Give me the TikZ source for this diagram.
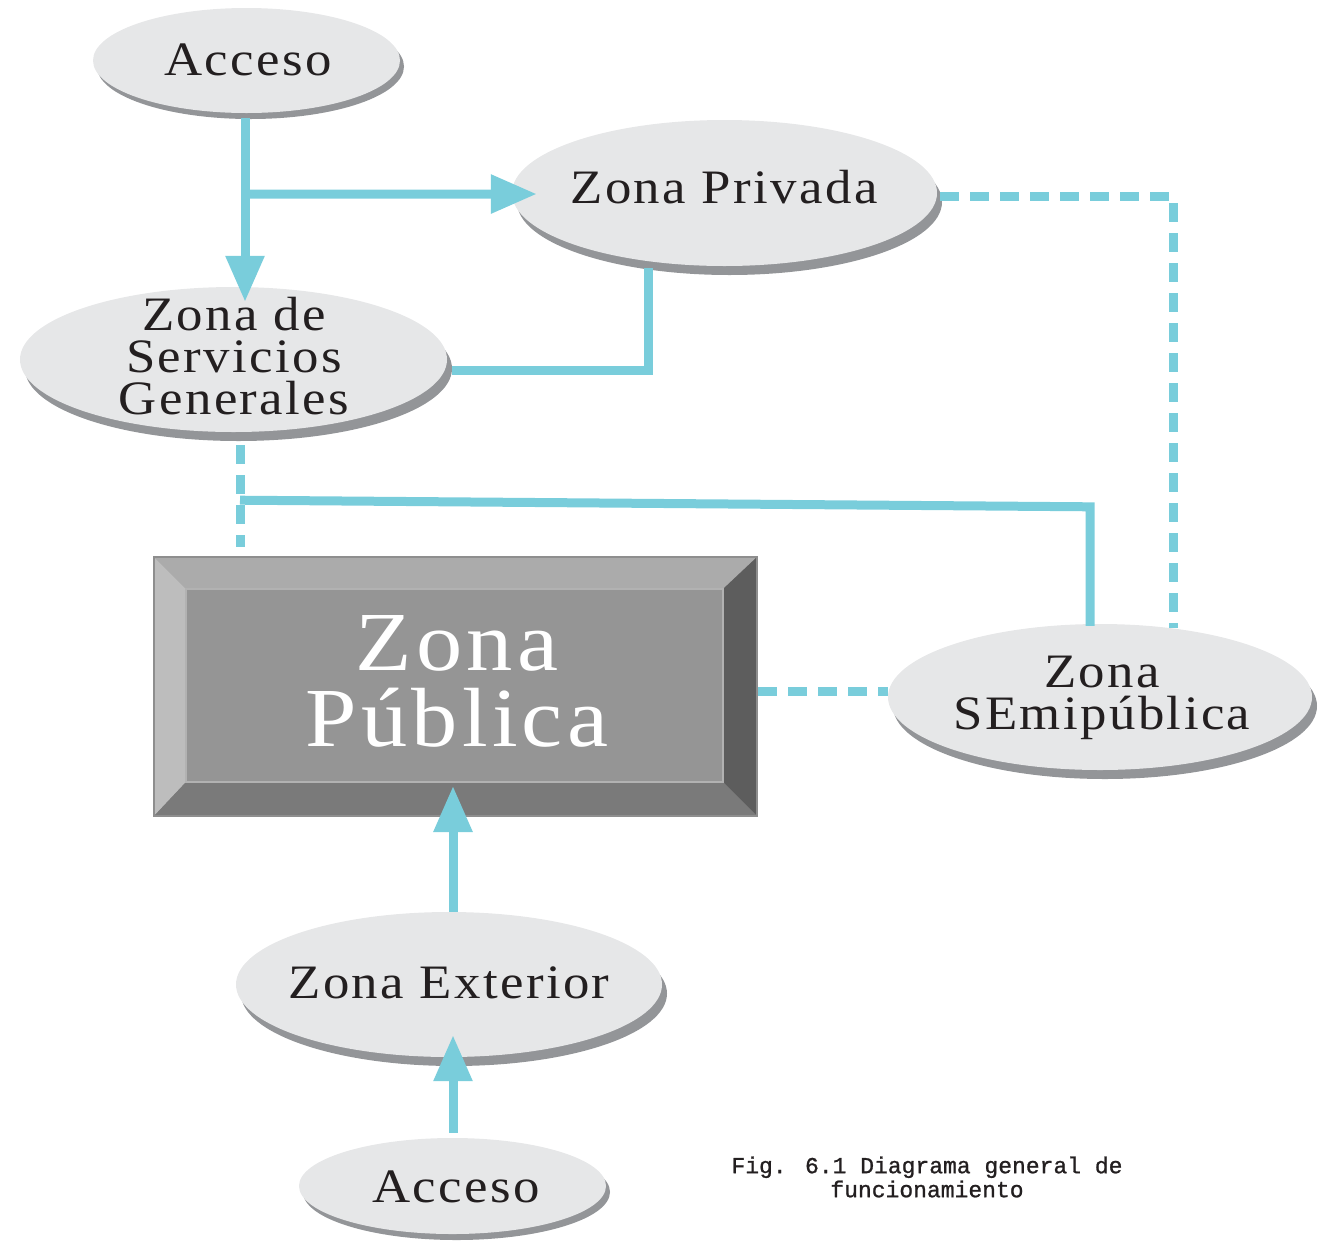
\documentclass[tikz,border=0pt]{standalone}
\usepackage{fontspec}
\setmainfont{Liberation Serif}[FakeStretch=1.1,LetterSpace=5]
\newfontfamily\capfont{Liberation Mono}[FakeBold=1]
\usetikzlibrary{shapes.geometric,shadows,arrows.meta,calc}
\definecolor{ellface}{HTML}{E6E7E8}
\definecolor{ellshadow}{HTML}{939598}
\definecolor{teal1}{HTML}{79CDDB}
\definecolor{txt}{HTML}{231F20}
\definecolor{bvtop}{HTML}{ABABAB}
\definecolor{bvleft}{HTML}{BDBDBD}
\definecolor{bvright}{HTML}{5D5D5D}
\definecolor{bvbottom}{HTML}{7A7A7A}
\definecolor{bvface}{HTML}{959595}
\definecolor{bvline}{HTML}{B2B2B2}
\definecolor{bvouter}{HTML}{8E8E8E}
\begin{document}
\begin{tikzpicture}[x=1pt,y=-1pt,
  ell/.style={ellipse, fill=ellface, draw=none, inner sep=0pt},
  shbig/.style={drop shadow={shadow xshift=5pt, shadow yshift=-9pt, fill=ellshadow, opacity=1}},
  shsmall/.style={drop shadow={shadow xshift=4pt, shadow yshift=-6pt, fill=ellshadow, opacity=1}},
  lbl/.style={text=txt, inner sep=0pt, align=center, font=\fontsize{48}{42}\selectfont},
  conn/.style={draw=teal1, line width=9pt, line join=miter},
  dconn/.style={conn, dash pattern=on 19pt off 11pt},
  arrowtip/.style={-{Triangle[width=37pt,length=46pt]}}
]
\useasboundingbox (0,0) rectangle (1320,1243);

% ellipses
\node[ell, shsmall, minimum width=307pt, minimum height=105pt] (acc1) at (246.5,60.5) {};
\node[ell, shbig, minimum width=425pt, minimum height=146pt] (priv) at (724.5,193) {};
\node[ell, shbig, minimum width=427pt, minimum height=145pt] (serv) at (233.5,359.5) {};
\node[ell, shbig, minimum width=424pt, minimum height=146pt] (semi) at (1100,697) {};
\node[ell, shbig, minimum width=426pt, minimum height=145pt] (ext) at (449,984.5) {};
\node[ell, shsmall, minimum width=307pt, minimum height=96pt] (acc2) at (452.5,1186) {};

% bevelled box
\node[rectangle, fill=bvface, draw=bvouter, line width=2pt, inner sep=0pt,
      minimum width=601pt, minimum height=257pt] (pub) at (455.5,686.5) {};
\coordinate (inw) at ($(pub.north west)+(32,32)$);
\coordinate (ine) at ($(pub.north east)+(-34,32)$);
\coordinate (ise) at ($(pub.south east)+(-34,-34)$);
\coordinate (isw) at ($(pub.south west)+(32,-34)$);
\fill[bvtop] (pub.north west) -- (pub.north east) -- (ine) -- (inw) -- cycle;
\fill[bvleft] (pub.north west) -- (inw) -- (isw) -- (pub.south west) -- cycle;
\fill[bvright] (pub.north east) -- (pub.south east) -- (ise) -- (ine) -- cycle;
\fill[bvbottom] (pub.south west) -- (isw) -- (ise) -- (pub.south east) -- cycle;
\draw[bvline, line width=2pt] (inw) rectangle (ise);
\draw[bvouter, line width=2pt] (pub.north west) rectangle (pub.south east);

% connectors
\coordinate (br) at ($(acc1.south)+(-1.5,81)$);
\coordinate (jn) at ($(serv.south)+(6.5,68)$);
\draw[conn, arrowtip] ($(acc1.south)+(-1.5,5)$) -- ($(serv.north)+(11.5,15)$);
\draw[conn, arrowtip] (br) -- ($(priv.west)+(25,1)$);
\draw[conn] ($(priv.south)+(-76.5,2)$) |- ($(serv.east)+(5,10.5)$);
\draw[dconn] ($(priv.east)+(3,3)$) -| ($(semi.north)+(73,4.5)$);
\draw[dconn] ($(serv.south)+(6.5,13)$) -- ($(pub.north)+(-215.5,-10)$);
\draw[conn] (jn) -- ($(semi.north)+(-10,-117)$) -- ($(semi.north)+(-10,2)$);
\draw[dconn] ($(pub.east)+(1,4.5)$) -- ($(semi.west)+(0,-6)$);
\draw[conn, arrowtip] ($(ext.north)+(4,0)$) -- ($(pub.south)+(-2.5,-30)$);
\draw[conn, arrowtip] ($(acc2.north)+(0.5,-5)$) -- ($(ext.south)+(4,-22)$);

% texts
\node[lbl, anchor=base] (acc1t) at (248,75) {Acceso};
\node[lbl, anchor=base] (privt) at (724,203) {Zona Privada};
\node[lbl] (servt) at (234,356) {Zona de\\Servicios\\Generales};
\node[lbl] (semit) at (1102,698) {Zona\\SEmipública};
\node[lbl, anchor=base] (extt) at (449,998) {Zona Exterior};
\node[lbl, anchor=base] (acc2t) at (456,1202) {Acceso};
\node[lbl, text=white, font=\fontsize{84}{76}\selectfont] (pubt) at (457,681) {Zona\\Pública};
\node[text=txt, inner sep=0pt, align=center, font=\capfont\fontsize{23}{24}\selectfont] (capt) at (927,1177) {Fig. 6.1 Diagrama general de\\funcionamiento};
\end{tikzpicture}
\end{document}
